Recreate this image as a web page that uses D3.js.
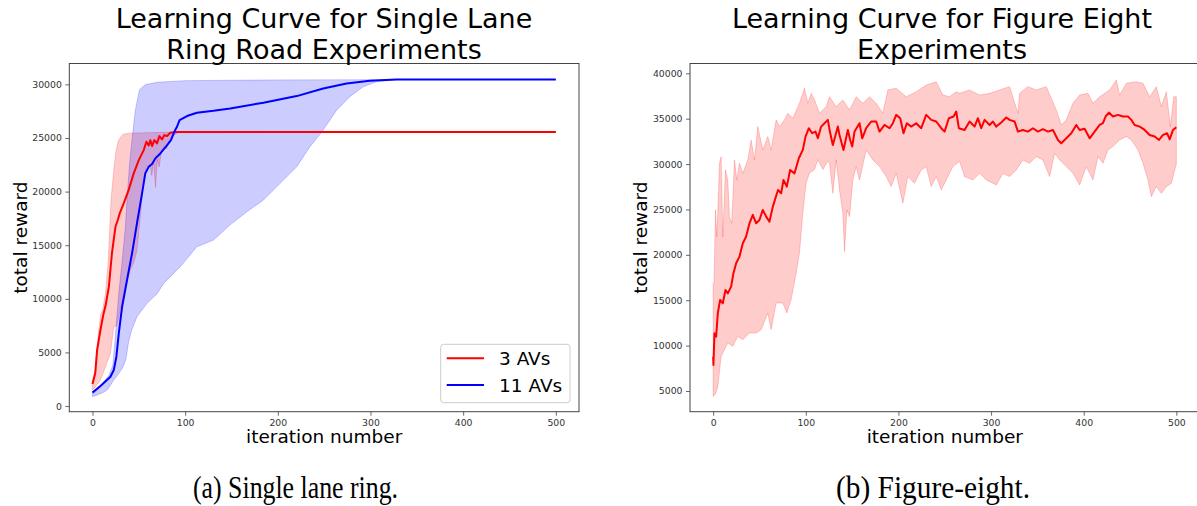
<!DOCTYPE html>
<html>
<head>
<meta charset="utf-8">
<script src="https://cdn.jsdelivr.net/npm/d3@7/dist/d3.min.js"></script>
<style>
  html, body { margin: 0; padding: 0; background: #fff; }
  svg { display: block; }
  .tick text { font-family: "DejaVu Sans", sans-serif; }
</style>
</head>
<body>
<svg id="fig" width="1197" height="506"></svg>
<script>
// ---------- Single lane ring: iteration / total reward pairs ----------
const ring3Mean = [[0,2050],[3,3050],[5,5220],[8.6,7090],[12,8640],[14,9300],[17.7,11130],[21,14240],[24.8,16720],[27.5,17400],[29.4,17970],[33.7,18900],[39,20140],[44.5,21700],[50,22940],[55.3,23870],[58.2,24650],[60.7,24300],[62.5,24800],[64.3,24250],[66.8,24800],[69.6,24500],[72.2,25180],[75,24870],[77.5,25270],[80.4,25180],[84,25490],[89.4,25550],[500,25550]];
const ring3Upper = [[0,2300],[3,3500],[6,6500],[9,8600],[11,9000],[14,10500],[17,13500],[20,19200],[23,22000],[25,23600],[28,24800],[33,25350],[40,25450],[60,25500],[90,25550],[500,25580]];
const ring3Lower = [[0,1500],[4,1900],[8.6,2420],[14,3670],[19.4,4910],[23,7400],[26.5,7500],[30,9000],[35,11000],[40,12500],[45,13500],[48,14500],[52,18000],[55,21000],[58,22300],[62,22500],[64,21500],[66,22800],[68,20400],[70,23000],[72,22300],[74,23500],[77,24200],[80,24000],[83,24800],[87,25200],[92,25500],[500,25550]];

const ring11Mean = [[0,1250],[8.6,1865],[19.4,2735],[23,3357],[25.8,4600],[28.4,6780],[32,9260],[37.3,11750],[42.7,14240],[48,17040],[53.5,19830],[57,21700],[60.7,22320],[64.3,22570],[67.8,23100],[73.2,23560],[79.7,24250],[84.7,24800],[88.3,25580],[91.2,26050],[94,26670],[102,27050],[112.7,27360],[130.6,27540],[148.6,27760],[184.5,28290],[220.4,28910],[249,29620],[274.2,30090],[299.3,30340],[328,30460],[500,30460]];
const ring11Upper = [[0,1350],[10,2000],[18,2900],[22,3800],[24,5800],[26,8000],[28.4,10540],[32,13500],[35.5,16720],[37.7,19840],[40.4,22970],[43,25140],[46.3,27640],[50.8,29510],[57,29980],[70,30200],[100,30350],[200,30420],[330,30460],[500,30460]];
const ring11Lower = [[0,870],[10,1200],[16,1490],[23,2420],[28,3000],[32,3500],[36,4300],[39,6000],[42,7000],[48,8330],[58.9,9580],[70,10500],[76.8,11440],[94.7,12990],[112.7,14860],[130.6,15480],[148.6,16900],[166.6,18120],[184.5,19210],[202.5,20770],[220.4,22320],[234.7,24190],[249,25740],[263.4,27600],[277.7,28850],[292,29780],[306.4,30250],[328,30450],[500,30460]];

// ---------- Figure eight: iteration / total reward pairs ----------
const eightMean = [[0,8780],[0.3,7870],[1.4,11360],[3.2,10980],[5,13560],[7.5,15030],[10.4,14660],[13.3,16130],[15.8,15760],[19.4,16500],[21.9,17970],[24.8,19070],[28.4,19800],[32,21280],[35.6,22020],[39.2,23480],[42.8,24400],[46.4,23480],[50,23840],[53.6,24950],[57.2,24210],[60.8,23660],[64.4,25310],[70,27150],[73.4,26780],[75.9,28250],[79.5,27520],[83.1,29350],[87.8,28980],[92.5,30640],[96.8,31560],[99.7,33020],[103.3,33950],[106.9,33400],[110.5,33580],[113,32840],[116.6,34130],[120.2,34500],[123.8,34870],[126,33580],[129.2,32110],[134.6,34130],[136.4,33210],[140.7,31560],[145.4,33760],[147.9,32660],[150.1,31930],[152.6,33580],[158,34500],[160.9,32840],[165.2,33950],[170.6,34690],[176,34690],[179.6,33580],[185,34310],[190.4,33950],[194,34500],[197.6,35420],[201.9,35050],[205.5,33400],[209.1,34500],[213.8,34130],[219.2,34500],[224.6,33950],[230,35420],[235.4,34870],[240.8,34690],[246.2,33950],[249.8,33580],[254.4,35050],[259.5,35240],[262.4,35790],[265.2,33950],[271.4,33760],[276.8,34690],[282.2,34130],[285.8,35050],[289.4,33950],[293,34870],[298.4,34310],[302,34690],[305.6,34130],[311,34580],[316.4,35130],[320,34870],[325.4,34690],[329,33580],[334.4,33760],[339.8,33580],[345.2,33950],[350.6,33580],[356,33840],[361.4,33580],[366.8,33760],[372.2,32660],[375.8,32290],[381.2,32840],[386.6,33400],[392,34310],[395.6,33760],[401,33900],[406.4,32840],[411.8,33580],[417.2,34310],[420.8,34500],[423.6,35240],[427.2,35680],[431.6,35240],[437,35420],[442.4,35240],[447.8,35240],[451.4,34870],[455,34310],[460.4,34130],[465.8,33760],[471.2,33210],[476.6,33030],[481.3,32660],[485.6,33210],[490,33400],[492.8,32730],[496.4,33760],[500,34060]];
const eightUpper = [[0,16800],[1,17000],[2.5,24950],[4,22000],[6.8,30090],[8.6,30820],[10.4,22000],[13.3,29350],[15.8,28250],[17.6,24210],[20.1,23480],[23,30460],[25.5,28250],[28.4,30090],[32,28980],[37.4,30460],[41,32660],[44.6,30460],[48.2,34130],[53.6,31560],[59,33030],[62.6,31560],[68,34870],[71.6,34130],[77,34870],[80.6,35600],[86,35050],[93.2,36700],[98.6,38360],[102.2,36700],[105.8,37800],[109.4,37070],[114.8,35600],[122,36330],[125.6,37420],[132.8,36330],[140,37060],[147.2,35960],[154.4,37420],[161.6,36700],[168.8,37420],[176,36700],[183.2,35600],[188.6,38170],[197.6,38360],[208.4,37420],[219.2,37970],[230,38700],[240.8,39070],[248,37600],[255.2,37420],[262.4,37970],[266,37790],[276.8,38170],[287.6,37600],[298.4,37790],[309.2,38170],[320,38530],[329,35600],[330.8,37790],[339.8,38530],[348.8,38170],[359.6,38530],[370.4,35960],[375.8,34310],[381.2,34870],[388.4,36700],[395.6,37600],[404.6,37790],[410,36700],[417.2,37420],[428,38170],[435.2,39270],[438.8,37600],[446,38900],[456.8,39070],[464,38900],[471.2,37420],[478.4,38530],[483.8,36330],[489.2,37970],[493.6,34130],[497.2,37420],[500,37420]];
const eightLower = [[0,4400],[2.5,4700],[5,5440],[8.6,8820],[12.2,9550],[15.8,10290],[21.2,9920],[26.6,11020],[32,10660],[39.2,11390],[46.4,11390],[51.8,11760],[59,13600],[62.6,11760],[68,14700],[75.2,14700],[79.5,13600],[84.2,15070],[89.6,18010],[93.2,20220],[96.8,24630],[100.4,27930],[104,29030],[109.4,29400],[113,30500],[118.4,29400],[123.8,30320],[125.6,30090],[129.2,26780],[132.8,30460],[136.4,27150],[140,24580],[141.8,20350],[144.4,24950],[147.2,24210],[150.8,28250],[154.4,29720],[158,28250],[165.2,31560],[172.4,30460],[179.6,29720],[186.8,28620],[192.2,27520],[197.6,28980],[204.8,25680],[210.1,28620],[217.3,27890],[224.6,29350],[230,29720],[235.4,27520],[240.8,28620],[246.2,27150],[251.6,28250],[258.8,29720],[266,30300],[271.4,28620],[280.4,28250],[287.6,28980],[294.8,28250],[305.6,27700],[312.8,28980],[320,28620],[327.2,29350],[334.4,30460],[341.6,30090],[348.8,30820],[356,30460],[363.2,28620],[368.6,31190],[374,30460],[381.2,29720],[388.4,28980],[395.6,27700],[402.8,29720],[410,28250],[415.4,30820],[420.8,30090],[426.2,31560],[431.6,31930],[438.8,32660],[446,33030],[451.4,32660],[458.6,31560],[464,30090],[469.4,28250],[473,26410],[478.4,27520],[483.8,26780],[489.2,27520],[494.6,27890],[498.2,29350],[500,30000]];

// ---------- ticks and labels ----------
const iterTicks = [0, 100, 200, 300, 400, 500];
const ringRewardTicks = [0, 5000, 10000, 15000, 20000, 25000, 30000];
const eightRewardTicks = [5000, 10000, 15000, 20000, 25000, 30000, 35000, 40000];
const ringTitle = ["Learning Curve for Single Lane", "Ring Road Experiments"];
const eightTitle = ["Learning Curve for Figure Eight", "Experiments"];
const ringLegend = ["3 AVs", "11 AVs"];
const captions = ["(a) Single lane ring.", "(b) Figure-eight."];

const svg = d3.select("#fig");
const SANS = "'DejaVu Sans', sans-serif";
const RED = "#ff0000", BLUE = "#0000ff";

function panel(opts) {
  const x = d3.scaleLinear().domain([-25, 525]).range([opts.left, opts.right]);
  const y = d3.scaleLinear().domain(opts.yDomain).range([opts.bottom, opts.top]);
  const g = svg.append("g");

  const clipId = "clip" + opts.id;
  svg.append("clipPath").attr("id", clipId).append("rect")
    .attr("x", opts.left).attr("y", opts.top)
    .attr("width", opts.right - opts.left).attr("height", opts.bottom - opts.top);

  const plot = g.append("g").attr("clip-path", `url(#${clipId})`);
  const line = d3.line().x(d => x(d[0])).y(d => y(d[1]));

  // shaded spread between upper and lower envelopes
  opts.series.forEach(s => {
    const ring = s.upper.concat(s.lower.slice().reverse());
    plot.append("path")
      .attr("d", line(ring) + "Z")
      .attr("fill", s.color).attr("fill-opacity", 0.2)
      .attr("stroke", s.color).attr("stroke-opacity", 0.2).attr("stroke-width", 1);
  });
  // mean curves
  opts.series.forEach(s => {
    plot.append("path")
      .attr("d", line(s.mean))
      .attr("fill", "none").attr("stroke", s.color)
      .attr("stroke-width", 2).attr("stroke-linejoin", "round");
  });

  // axes
  const xAxis = d3.axisBottom(x).tickValues(iterTicks).tickSizeInner(4).tickSizeOuter(0).tickPadding(3.5);
  const yAxis = d3.axisLeft(y).tickValues(opts.yTicks).tickSizeInner(4).tickSizeOuter(0).tickPadding(3.5)
    .tickFormat(d3.format("d"));
  const gx = g.append("g").attr("transform", `translate(0,${opts.bottom})`).call(xAxis);
  const gy = g.append("g").attr("transform", `translate(${opts.left},0)`).call(yAxis);
  [gx, gy].forEach(a => {
    a.select(".domain").remove();
    a.selectAll(".tick line").attr("stroke", "#444").attr("stroke-width", 0.8);
    a.selectAll(".tick text").attr("fill", "#333").style("font-size", "9.3px");
  });

  // frame
  g.append("rect")
    .attr("x", opts.left).attr("y", opts.top)
    .attr("width", opts.right - opts.left).attr("height", opts.bottom - opts.top)
    .attr("fill", "none").attr("stroke", "#444").attr("stroke-width", 1);

  // titles and axis labels
  opts.title.forEach((t, i) => {
    g.append("text").attr("x", opts.titleX).attr("y", 28 + i * 31)
      .attr("text-anchor", "middle").style("font-family", SANS).style("font-size", "27px")
      .attr("fill", "#000").text(t);
  });
  g.append("text").attr("x", (opts.left + opts.right) / 2).attr("y", 443)
    .attr("text-anchor", "middle").style("font-family", SANS).style("font-size", "18.5px")
    .attr("fill", "#000").text("iteration number");
  g.append("text")
    .attr("transform", `translate(${opts.yLabelX},${(opts.top + opts.bottom) / 2}) rotate(-90)`)
    .attr("text-anchor", "middle").style("font-family", SANS).style("font-size", "18.5px")
    .attr("fill", "#000").text("total reward");

  return { x, y, g };
}

panel({
  id: "ring", left: 69.3, right: 579, top: 63.5, bottom: 411.7,
  yDomain: [-530, 31950], yTicks: ringRewardTicks, title: ringTitle, titleX: 324, yLabelX: 27,
  series: [
    { mean: ring3Mean, upper: ring3Upper, lower: ring3Lower, color: RED },
    { mean: ring11Mean, upper: ring11Upper, lower: ring11Lower, color: BLUE }
  ]
});

panel({
  id: "eight", left: 690, right: 1199.5, top: 63.5, bottom: 411.7,
  yDomain: [2720, 41080], yTicks: eightRewardTicks, title: eightTitle, titleX: 942, yLabelX: 647,
  series: [
    { mean: eightMean, upper: eightUpper, lower: eightLower, color: RED }
  ]
});

// legend for the ring panel
const leg = svg.append("g");
leg.append("rect").attr("x", 440.7).attr("y", 344.3).attr("width", 129.3).attr("height", 58.4)
  .attr("rx", 3).attr("fill", "#fff").attr("fill-opacity", 0.8)
  .attr("stroke", "#cccccc").attr("stroke-width", 1);
[RED, BLUE].forEach((c, i) => {
  const yy = 358.3 + i * 26.7;
  leg.append("line").attr("x1", 446.7).attr("x2", 484).attr("y1", yy).attr("y2", yy)
    .attr("stroke", c).attr("stroke-width", 2);
  leg.append("text").attr("x", 499).attr("y", yy).attr("dy", "0.36em")
    .style("font-family", SANS).style("font-size", "18.5px").attr("fill", "#000")
    .text(ringLegend[i]);
});

// sub-figure captions
[[295.5, 205], [933, 194]].forEach(([cx, w], i) => {
  svg.append("text").attr("x", cx).attr("y", 498)
    .attr("text-anchor", "middle")
    .style("font-family", "'Liberation Serif', serif").style("font-size", "31px")
    .attr("textLength", w).attr("lengthAdjust", "spacingAndGlyphs")
    .attr("fill", "#000").text(captions[i]);
});
</script>
</body>
</html>
